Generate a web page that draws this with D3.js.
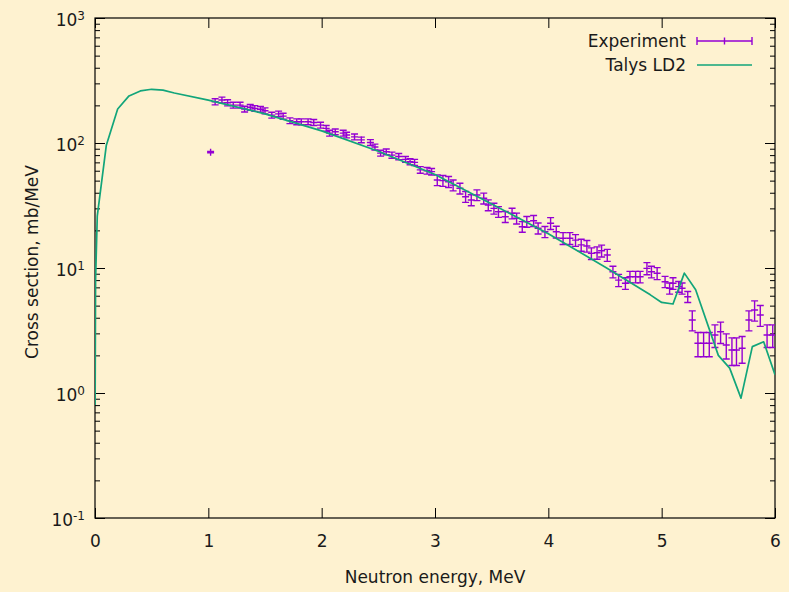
<!DOCTYPE html>
<html>
<head>
<meta charset="utf-8">
<script src="https://d3js.org/d3.v7.min.js"></script>
<style>
    html, body { margin: 0; padding: 0; background: #fef2d0; }
    svg text { font-family: "DejaVu Sans", sans-serif; fill: #1a1a1a; }
</style>
</head>
<body>
<div id="chart"></div>
<script>
    // experiment: energy (MeV), cross section (mb/MeV), error
    var expE = [1.02, 1.06, 1.12, 1.17, 1.22, 1.28, 1.32, 1.37, 1.41, 1.46, 1.50,
        1.56, 1.62, 1.66, 1.72, 1.78, 1.82, 1.88, 1.93, 1.99, 2.04, 2.07, 2.12,
        2.19, 2.22, 2.29, 2.35, 2.43, 2.47, 2.52, 2.57, 2.62, 2.68, 2.74, 2.78,
        2.82, 2.87, 2.93, 2.97, 3.02, 3.07, 3.12, 3.16, 3.22, 3.27, 3.32, 3.37,
        3.43, 3.47, 3.52, 3.56, 3.62, 3.68, 3.72, 3.77, 3.81, 3.87, 3.91, 3.97,
        4.02, 4.07, 4.13, 4.19, 4.24, 4.29, 4.34, 4.38, 4.43, 4.47, 4.52, 4.57,
        4.62, 4.68, 4.72, 4.77, 4.81, 4.87, 4.91, 4.96, 5.03, 5.07, 5.10, 5.15,
        5.18, 5.23, 5.27, 5.32, 5.37, 5.42, 5.47, 5.52, 5.57, 5.62, 5.66, 5.71,
        5.77, 5.82, 5.87, 5.93, 5.98];
    var expXs = [84.5, 214, 221, 210, 201, 201, 187, 193, 189, 186, 181,
        167, 171, 164, 151, 148, 148, 148, 146, 139, 131, 120, 123,
        120, 116, 112, 106, 101, 93, 83, 85, 80, 78, 74, 71,
        70, 61, 60, 59, 50.6, 50, 49, 46, 43.4, 37.2, 35.0, 38.4,
        36.1, 31.9, 30.0, 28.2, 25.7, 27.4, 25.0, 21.4, 23.5, 23.9, 20.8, 19.5,
        22.8, 19.5, 17.3, 17.3, 16.7, 15.3, 15.0, 13.1, 13.25, 13.75, 12.7, 9.34,
        8.0, 7.55, 8.5, 8.5, 8.5, 9.94, 9.34, 9.07, 7.77, 6.88, 7.55, 7.09,
        6.88, 5.89, 3.84, 2.50, 2.50, 2.50, 2.91, 3.09, 2.42, 2.21, 2.21, 2.28,
        3.84, 4.61, 4.21, 2.91, 2.91];
    var expErr = [1.2, 12, 12, 12, 11, 11, 10, 10, 10, 10, 10,
        9, 9, 9, 8, 8, 8, 8, 8, 7.5, 7, 6.5, 6.5,
        6.5, 6, 6, 5.5, 5.5, 5, 4.5, 4.5, 4.5, 4.5, 4, 4,
        4, 3.7, 3.6, 3.6, 5, 5, 4.9, 4.6, 4.3, 3.7, 3.5, 3.8,
        3.6, 3.2, 3.0, 2.8, 2.6, 2.7, 2.5, 2.1, 2.3, 2.4, 2.1, 2.0,
        2.5, 2.1, 1.9, 1.9, 1.8, 1.7, 1.6, 1.4, 1.5, 1.5, 1.4, 1.0,
        0.9, 0.8, 0.9, 0.9, 0.9, 1.1, 1.0, 1.0, 0.8, 0.7, 0.8, 0.7,
        0.7, 0.6, 0.7, 0.55, 0.55, 0.55, 0.6, 0.6, 0.55, 0.55, 0.55, 0.55,
        0.7, 0.85, 0.8, 0.6, 0.6];

    // Talys LD2 calculation
    var talysE = [0.001, 0.005, 0.02, 0.1, 0.2, 0.3, 0.4, 0.5, 0.6, 0.7, 1.0,
        1.5, 2.0, 2.5, 3.0, 3.5, 4.0, 4.5, 4.9, 5.0, 5.1, 5.2, 5.3, 5.5, 5.6,
        5.7, 5.8, 5.9, 6.0];
    var talysXs = [0.8, 8, 26, 96, 187, 238, 261, 269, 265, 251, 220,
        171, 125, 86, 56, 32.5, 18.8, 10.2, 6.1, 5.3, 5.15, 9.1, 6.7, 2.0, 1.58,
        0.91, 2.35, 2.57, 1.4];

    var xTicks = [0, 1, 2, 3, 4, 5, 6];
    var yDecades = [-1, 0, 1, 2, 3];

    var width = 789, height = 592;
    var margin = {left: 95, right: 14, top: 18, bottom: 74};
    var purple = "#9400d3", green = "#12a57a";

    const svg = d3.select("#chart").append("svg")
        .attr("width", width)
        .attr("height", height);

    const x = d3.scaleLinear().domain([0, 6]).range([margin.left, width - margin.right]);
    const y = d3.scaleLog().domain([0.1, 1000]).range([height - margin.bottom, margin.top]);

    var majorY = yDecades.map(d => Math.pow(10, d));
    var minorY = [];
    yDecades.slice(0, -1).forEach(d => {
        for (let k = 2; k < 10; k++) minorY.push(k * Math.pow(10, d));
    });

    // minor y ticks, left and right
    svg.append("g")
        .attr("transform", `translate(${x(0)},0)`)
        .call(d3.axisLeft(y).tickValues(minorY).tickSize(-5).tickFormat(""))
        .call(g => g.select(".domain").remove());
    svg.append("g")
        .attr("transform", `translate(${x(6)},0)`)
        .call(d3.axisRight(y).tickValues(minorY).tickSize(-5).tickFormat(""))
        .call(g => g.select(".domain").remove());

    // major y ticks with 10^n labels
    const yAxis = svg.append("g")
        .attr("transform", `translate(${x(0)},0)`)
        .call(d3.axisLeft(y).tickValues(majorY).tickSize(-10).tickPadding(10).tickFormat(""))
        .call(g => g.select(".domain").remove());
    yAxis.selectAll(".tick text")
        .attr("font-size", 17)
        .attr("fill", "#1a1a1a")
        .attr("dy", "0.45em")
        .each(function (d) {
            const t = d3.select(this);
            t.text("10");
            t.append("tspan")
                .attr("dy", "-0.55em")
                .attr("font-size", 12)
                .text(Math.round(Math.log10(d)));
        });
    svg.append("g")
        .attr("transform", `translate(${x(6)},0)`)
        .call(d3.axisRight(y).tickValues(majorY).tickSize(-10).tickFormat(""))
        .call(g => g.select(".domain").remove());

    // x axis
    svg.append("g")
        .attr("transform", `translate(0,${y(0.1)})`)
        .call(d3.axisBottom(x).tickValues(xTicks).tickSize(-10).tickPadding(17).tickFormat(d3.format("d")))
        .call(g => g.select(".domain").remove())
        .call(g => g.selectAll("text").attr("font-size", 17).attr("fill", "#1a1a1a"));
    svg.append("g")
        .attr("transform", `translate(0,${y(1000)})`)
        .call(d3.axisTop(x).tickValues(xTicks).tickSize(-10).tickFormat(""))
        .call(g => g.select(".domain").remove());

    svg.selectAll(".tick line").attr("stroke", "#000");

    // frame
    svg.append("rect")
        .attr("x", x(0)).attr("y", y(1000))
        .attr("width", x(6) - x(0)).attr("height", y(0.1) - y(1000))
        .attr("fill", "none").attr("stroke", "#000").attr("stroke-width", 1.2);

    // axis titles
    svg.append("text")
        .attr("x", (x(0) + x(6)) / 2).attr("y", 583)
        .attr("text-anchor", "middle").attr("font-size", 17)
        .text("Neutron energy, MeV");
    svg.append("text")
        .attr("transform", `translate(38,${(y(0.1) + y(1000)) / 2 - 6}) rotate(-90)`)
        .attr("text-anchor", "middle").attr("font-size", 17)
        .text("Cross section, mb/MeV");

    svg.append("clipPath").attr("id", "plotclip")
        .append("rect")
        .attr("x", x(0)).attr("y", y(1000))
        .attr("width", x(6) - x(0)).attr("height", y(0.1) - y(1000));

    const plot = svg.append("g").attr("clip-path", "url(#plotclip)");

    // experiment with y error bars
    var expData = expE.map((e, i) => ({e: e, v: expXs[i], err: expErr[i]}));
    const cap = 3.5, mark = 3.5;
    const pts = plot.append("g")
        .attr("stroke", purple).attr("stroke-width", 1.4).attr("fill", "none")
        .selectAll("g").data(expData).join("g");
    pts.append("path")
        .attr("d", d => {
            const cx = x(d.e), y0 = y(d.v + d.err), y1 = y(d.v - d.err);
            return `M${cx},${y0}V${y1}M${cx - cap},${y0}H${cx + cap}M${cx - cap},${y1}H${cx + cap}` +
                `M${cx - mark},${y(d.v)}H${cx + mark}M${cx},${y(d.v) - mark}V${y(d.v) + mark}`;
        });

    // Talys curve
    plot.append("path")
        .datum(talysE.map((e, i) => [e, talysXs[i]]))
        .attr("fill", "none")
        .attr("stroke", green)
        .attr("stroke-width", 1.7)
        .attr("stroke-linejoin", "round")
        .attr("d", d3.line().x(d => x(d[0])).y(d => y(d[1])));

    // legend
    const legend = svg.append("g");
    const lx0 = 697, lx1 = 752;
    legend.append("text").attr("x", 686).attr("y", 41).attr("dy", "0.35em")
        .attr("text-anchor", "end").attr("font-size", 17).text("Experiment");
    legend.append("path")
        .attr("stroke", purple).attr("stroke-width", 1.4).attr("fill", "none")
        .attr("d", `M${lx0},41H${lx1}M${lx0},37V45M${lx1},37V45M${(lx0 + lx1) / 2},37.5V44.5`);
    legend.append("text").attr("x", 686).attr("y", 65).attr("dy", "0.35em")
        .attr("text-anchor", "end").attr("font-size", 17).text("Talys LD2");
    legend.append("path")
        .attr("stroke", green).attr("stroke-width", 1.7)
        .attr("d", `M${lx0},65H${lx1}`);
</script>
</body>
</html>
